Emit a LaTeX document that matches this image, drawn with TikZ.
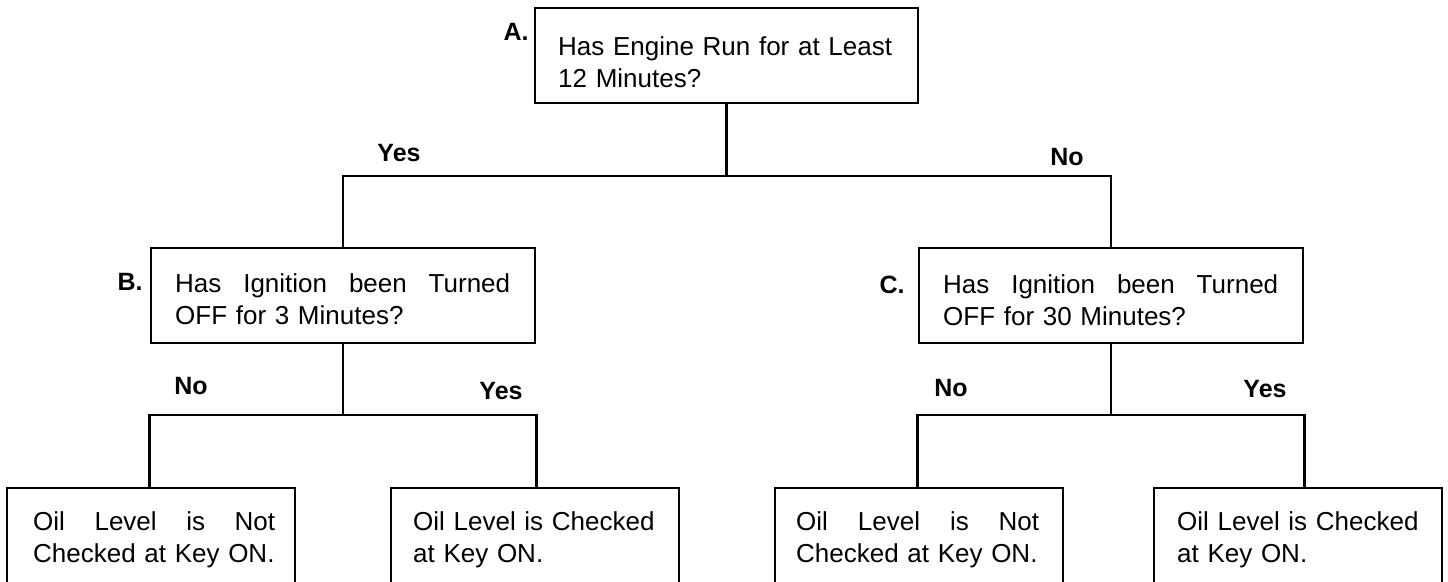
\documentclass[tikz,border=0pt]{standalone}
\usepackage{fontspec}
\setmainfont{Liberation Sans}
\begin{document}
\begin{tikzpicture}[x=1pt,y=-1pt,
  qbox/.style={draw, line width=2.6pt, rectangle, inner sep=0pt, minimum width=384pt, minimum height=95pt},
  leafbox/.style={draw, line width=2.6pt, rectangle, inner sep=0pt, minimum width=288pt, minimum height=112pt},
  qtext/.style={inner sep=0pt, anchor=base west, font=\fontsize{26}{32}\selectfont},
  ltext/.style={qtext, text width=243pt},
  lbl/.style={inner sep=0pt, anchor=base, font=\bfseries\fontsize{25}{30}\selectfont},
  conn/.style={line width=2.6pt}]
\clip (0,0) rectangle (1448,581);
% boxes
\node[qbox, minimum width=383pt] (A) at (726.5,55.5) {};
\node[qbox] (B) at (343,295.5) {};
\node[qbox] (C) at (1111,295.5) {};
\node[leafbox] (L1) at (151,544) {};
\node[leafbox] (L2) at (535,544) {};
\node[leafbox] (L3) at (919,544) {};
\node[leafbox] (L4) at (1298,544) {};
% texts
\node[qtext, text width=340pt] (At) at (558,55) {Has Engine Run for at Least\\12 Minutes?};
\node[qtext, text width=335pt] (Bt) at (175,292) {Has\hfill Ignition\hfill been\hfill Turned\\OFF for 3 Minutes?};
\node[qtext, text width=335pt] (Ct) at (943,293) {Has\hfill Ignition\hfill been\hfill Turned\\OFF for 30 Minutes?};
\node[ltext, text width=242pt] (L1t) at (33,530) {Oil\hfill Level\hfill is\hfill Not\\Checked at Key ON.};
\node[ltext] (L2t) at (413,530) {Oil Level is Checked\\at Key ON.};
\node[ltext] (L3t) at (796,530) {Oil\hfill Level\hfill is\hfill Not\\Checked at Key ON.};
\node[ltext] (L4t) at (1177,530) {Oil Level is Checked\\at Key ON.};
% step labels
\node[lbl] (la) at (516,40) {A.};
\node[lbl] (lb) at (130,290) {B.};
\node[lbl] (lc) at (892,293) {C.};
% branch labels
\node[lbl] (yA) at (399,161) {Yes};
\node[lbl] (nA) at (1067,165) {No};
\node[lbl] (nB) at (191,394) {No};
\node[lbl] (yB) at (501,399) {Yes};
\node[lbl] (nC) at (951,396) {No};
\node[lbl] (yC) at (1265,397) {Yes};
% connectors
\coordinate (jA) at (726.5,176);
\coordinate (jB) at (343,415);
\coordinate (jC) at (1111,415);
\draw[conn] (A.south) -- (jA);
\draw[conn] (B.north) |- (jA) -| (C.north);
\draw[conn] (B.south) -- (jB);
\draw[conn] (L1.north -| B.west) |- (jB) -| (L2.north -| B.east);
\draw[conn] (C.south) -- (jC);
\draw[conn] (L3.north -| C.west) |- (jC) -| (L4.north -| C.east);
\end{tikzpicture}
\end{document}
